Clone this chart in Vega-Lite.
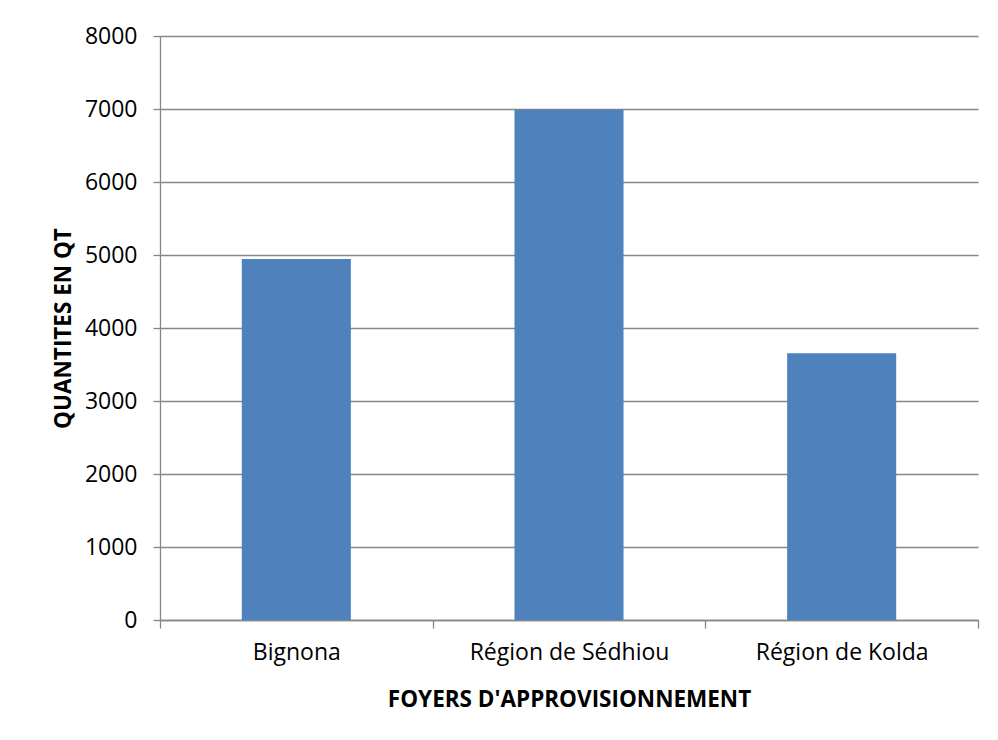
{
  "$schema": "https://vega.github.io/schema/vega-lite/v6.json",
  "autosize": {"type": "none"},
  "padding": {"left": 160, "top": 36, "right": 20, "bottom": 120},
  "width": 818,
  "height": 584,
  "background": "white",
  "config": {
    "view": {"stroke": null},
    "font": "Open Sans"
  },
  "data": {
    "values": [
      {"foyer": "Bignona", "quantite": 4945},
      {"foyer": "Région de Sédhiou", "quantite": 6990},
      {"foyer": "Région de Kolda", "quantite": 3655}
    ]
  },
  "mark": {"type": "bar", "color": "#4F81BD", "width": {"band": 0.4}},
  "encoding": {
    "x": {
      "field": "foyer",
      "type": "nominal",
      "sort": null,
      "scale": {"paddingInner": 0, "paddingOuter": 0},
      "axis": {
        "title": "FOYERS D'APPROVISIONNEMENT",
        "titleFont": "Open Sans",
        "titleFontSize": 22.5,
        "titleFontWeight": "bold",
        "titleColor": "#000000",
        "titlePadding": 24,
        "labelAngle": 0,
        "labelFontSize": 23,
        "labelLimit": 0,
        "labelColor": "#000000",
        "labelPadding": 13,
        "tickBand": "extent",
        "tickSize": 8,
        "tickColor": "#868686",
        "tickWidth": 1.3,
        "domainColor": "#868686",
        "domainWidth": 1.3,
        "grid": false
      }
    },
    "y": {
      "field": "quantite",
      "type": "quantitative",
      "scale": {"domain": [0, 8000], "nice": false},
      "axis": {
        "title": "QUANTITES EN QT",
        "titleFont": "Open Sans",
        "titleFontSize": 22.5,
        "titleFontWeight": "bold",
        "titleColor": "#000000",
        "titlePadding": 9,
        "values": [0, 1000, 2000, 3000, 4000, 5000, 6000, 7000, 8000],
        "format": "d",
        "labelFontSize": 23,
        "labelColor": "#000000",
        "labelPadding": 16,
        "tickSize": 7,
        "tickColor": "#868686",
        "tickWidth": 1.3,
        "domainColor": "#868686",
        "domainWidth": 1.3,
        "grid": true,
        "gridColor": "#868686",
        "gridWidth": 1.3
      }
    }
  }
}
